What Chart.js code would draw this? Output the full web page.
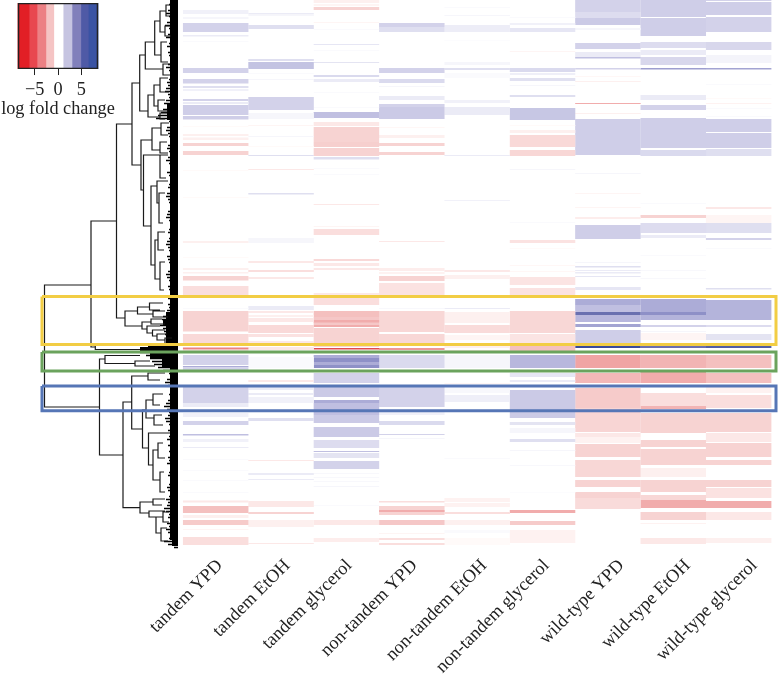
<!DOCTYPE html>
<html><head><meta charset="utf-8">
<style>html,body{margin:0;padding:0;background:#fff}#wrap{position:relative;width:778px;height:677px}
#main{position:absolute;left:0;top:0}#key{position:absolute;left:0;top:0}</style>
<script src="https://cdn.jsdelivr.net/npm/chart.js@4"></script></head>
<body><div id="wrap"><canvas id="main" width="778" height="677"></canvas><canvas id="key" width="116" height="120"></canvas></div>
<script>
const categories=['tandem YPD','tandem EtOH','tandem glycerol','non-tandem YPD','non-tandem EtOH','non-tandem glycerol','wild-type YPD','wild-type EtOH','wild-type glycerol'];
const labelAt=[0.97,1.98,2.9,3.88,4.92,5.85,6.97,7.96,8.96];
// each band: [first row, last row, log fold change]
const tandemYPD=[[10,14,.7],[17,19,.5],[23,32,2],[35,36.5,1],[41,42,.3],[68,73,2],[79,83.5,2],[86,88,1.5],[89,91,.7],[99,101,2],[102,104,1],[105,115,2.1],[116,119.5,2.1],[126,127,-.3],[134,136,-.7],[137.5,140,-.7],[143,146,-2],[151,155,-2],[170,171,-.3],[197,198,-.3],[241,243,-.7],[257,258,-.3],[268,270,-.7],[272,273.5,-.7],[276,280.5,-2],[286,295,-1.5],[308,309,.3],[311,331.5,-2],[334,343,-1.7],[347.5,349.5,-4],[350,352,-1],[355,365,2],[366,367.5,3],[368,370,2],[387,403,2],[403,407,1],[413,417,.7],[421,425,2],[434,435.5,2.5],[439,442,.7],[447,448,1],[459,460,.3],[470,471,.3],[480,481,.3],[492,493,.3],[500.5,502.5,-1],[506,513,-2.5],[515,518,-.7],[520,525,-2.2],[529,530,-.5],[537,545,-1.5]];
const tandemEtOH=[[13,14.5,1],[15,16,.5],[25,29,1.5],[59,61,1.5],[62,69,2.4],[73,74,.3],[79,80,.5],[97,110,2],[113,119,.5],[125,126,-.5],[136,137,.5],[146,147,-.3],[155,156,1.5],[169,170,-1],[193,194.5,1.5],[238,243,.5],[261,263,-1],[270,272,-1.5],[277,279,-1],[306,310,1],[311,313,-1],[315,317,-.7],[318,322,-1],[325,333,-1.7],[334,337,-1.3],[341,343,-1],[347,350,-1],[357,368,.3],[380,382,-1],[387,390,1],[393,395,1],[397,403,.7],[418,421,1.5],[460,461,-1],[473,475,1],[479,480,1],[501,507,-1],[512,514,-2],[520,527,-.7],[543,544,-1]];
const tandemGlycerol=[[0,3,-.7],[4,6,-.5],[7,10,-2],[22,23,-.5],[29,30,.3],[44,45,1.2],[50,51,.3],[62,63,1.3],[75,77,1.7],[79,82,1],[92,93,.3],[107,108,.3],[112,118,2.5],[122,126,-1],[127,142,-2],[142,147,-2.1],[148,156,-2],[157,159.5,1.5],[168,169,.3],[174,175,.3],[204,205,-1],[226,227,-.5],[229,235,-1.5],[259,261,-1.7],[263,266,-1],[268,270,-1],[293,295,-1],[298,305,-1.5],[311,317,-2.5],[317,327,-2.3],[320,322.5,-3],[325,327,-3],[328,347,-2],[348,349.5,-5],[355,358,3],[358,362,4],[362,365,3],[365,368,4],[373,383,2],[387,397,2.2],[400,403,3],[403,415,2.5],[415,423,2.2],[427,437,2.2],[440,448,1.6],[451,452,2.5],[453,458,1.3],[461,469,2],[473,474,.4],[477,478,.4],[481,482,.4],[486,487,.5],[505,506,.3],[520,525,-1],[538,542,-.8]];
const nonTandemYPD=[[23,27,2],[27,32,1.5],[68,73,2],[79,83,1.7],[86,87,.5],[96,100,1],[104,107,2],[107,119,2.2],[127,128,-.4],[135,138,-.7],[143,146,-2],[152,155,-2],[241,242,-1],[268,271,-.8],[272,274,-.6],[276,281,-2],[283,295,-1.3],[308,309,.4],[311,332,-1.8],[334,343,-1.8],[348,350,-3.5],[355,368,1.7],[387,407,2],[410,415,.7],[421,425,1.7],[434,435,2],[438,439,.5],[501,502.5,-1.5],[506,515,-2],[510,512,-3],[520,525,-2.3],[533,534,-.5],[538,540,-1.5],[543,545,-1.5]];
const nonTandemEtOH=[[7,8,.3],[15,16,.5],[25,32,.9],[40,41,.2],[62,65,.5],[68,70,1.5],[73,78,.3],[100,103,.7],[107,115,1],[155,156,1],[200,201,.7],[270,272,-1],[275,279,-.7],[308,309,1],[312,323,-.7],[325,333,-1.6],[335,340,-.5],[343,348,-.7],[350,351,-1],[355,368,.5],[383,384,-.5],[388,393,.4],[395,402,.8],[458,459,.3],[498,502,-.6],[503,507,-.6],[512,514,-1.5],[520,525,-.7],[530,533,.3],[538,545,-.3]];
const nonTandemGlycerol=[[17,18,.3],[23,25,.7],[28,32,1.2],[51,52,-.5],[68,72,1.7],[73,75,.8],[78,81,1.4],[85,86,.5],[95,97,1.5],[108,120,2.3],[125,126,-.3],[130,133,-.7],[135,147,-1.7],[150,156,-1.8],[169,170,.5],[222,223,.3],[240,243,-1.3],[248,249,-.3],[265,266,-.4],[271,272,-.4],[277,285,-1.2],[288,295,-1.3],[311,333,-1.8],[334,343,-1.2],[346,351,-2.5],[355,368,2.7],[373,377,1.2],[380,382,1],[390,413,2.2],[413,418,2.2],[422,425,1.3],[428,433,.5],[439,442,1.5],[450,451,.5],[465,466,.4],[492,493,.2],[510,513,-3],[521,525,-2.2],[530,543,-.6]];
const wildTypeYPD=[[0,12,2],[12,18,1.6],[18,25,2.2],[28,30,.5],[43,49,2],[52,57,1],[57,58.5,2.5],[68,69.5,2],[76,77,-.4],[81,82,-.7],[103,104,-3],[113,114,-.7],[119,155,2.1],[173,174,.5],[193,194,-.5],[207,208,-.5],[217,219,-.8],[225,239,2.1],[262,263,.5],[266,267.5,1.5],[270,271,1],[272,273.5,1],[276,277,1.2],[287,290,1.2],[299,305,3],[305,312,2.5],[312,315,5],[315,322,2.7],[324,327,3.3],[330,343,2.1],[346,348,7],[355,368,-3.2],[373,383,-2.7],[388,408,-2.2],[408,432,-1.9],[433,437,-1],[437,443,-.6],[444,457,-2],[460,477,-1.8],[480,487,-2],[492,498,-2],[498,509,-1.6]];
const wildTypeEtOH=[[0,17,2.1],[18,36,2.1],[42,48,1.6],[50,55,1],[57,65,1.8],[68,69.5,3.5],[95,100,1],[105,110,2],[118,148,2.1],[150,156,1.7],[203,204,.3],[215,218,-2],[223,233,1.6],[235,238,1],[255,256,.3],[270,271,.4],[278,279,.4],[299,312,3],[312,315,4],[315,320,2.8],[325,327,2],[331,332,.5],[333,340,-.5],[346,348,5],[355,368,-2.8],[372,383,-3],[393,406,-1.5],[406,409,-2.8],[413,433,-2],[440,447,-2],[449,465,-2],[468,477,-.7],[480,492,-2],[495,500,-1.8],[500,508,-3],[512,520,-2],[523,524,-.6],[538,544,-1]];
const wildTypeGlycerol=[[0,1,2],[2,15,2.1],[17,32,2],[42,50,1.8],[55,63,.6],[68,69.5,3.3],[84,85,.3],[98,99,-.3],[103,104,-.6],[108,109,.3],[116,117,.3],[119,132,2.1],[133,148,2.1],[149,156,1.5],[207,209,-1],[215,223,-.5],[223,233,1.5],[238,240,2],[248,249,.3],[288,289.5,1.5],[300,320,2.8],[325,327,1.6],[334,340,1.3],[346,348,6],[355,368,-2.5],[373,383,-2.5],[387,393,-.6],[395,408,-1.5],[413,432,-2],[433,442,-1],[443,457,-2],[460,465,-2],[480,487,-2],[488,498,-1.3],[501,508,-3],[512,520,-1],[538,543,-.7]];
const columns=[tandemYPD,tandemEtOH,tandemGlycerol,nonTandemYPD,nonTandemEtOH,nonTandemGlycerol,wildTypeYPD,wildTypeEtOH,wildTypeGlycerol];
// dendrogram joins: [merge height, upper row, lower row, upper child height, lower child height]
const joins=[[133.5,285,407,87,78.5],[87,221,347,61.5,82.7],[61.5,124,318,46,53],[46,83,165,38.3,37],[38.3,55,111,32.7,30],[32.7,42,69,23.3,15],[23.3,21,55,18,17],[18,11,32,12,13],[17,42,62,11,10],[12,5,16,8,8],[13,26,36,8,7],[15,64,75,8,8],[30,95,117,24,18],[24,85,106,18,20],[18,78,92,10,9],[20,100,111,13,10],[18,113,119,11,13],[37,140,190,26,34.5],[26,128,150,17,18],[17,123,135,9,10],[18,142,153,11,10],[34.5,155,226,18,27],[18,155,178,10,12],[27,186,265,21,23],[21,181,203,10,19],[19,193,223,13,15],[23,240,279,20,18],[20,232,250,13,14],[18,262,290,13,14],[53,311,326,40.5,36],[40.5,307,314,28.5,25],[28.5,303,310,15,18],[25,311,317,13,10],[36,322,329,27,31],[27,319,324,16,13],[31,326,333,18,25.5],[25.5,330,336,13,21],[21,334,340,11,13],[13,338,344,6,6],[82.7,345,349.5,78,38],[78.5,359,455,73,55],[73,355.5,363.5,38,43],[43,361,366,28,23],[55,402,507.7,46.3,38],[46.3,376,429,30,35.5],[30,373,380,13,18],[35.5,410,448,32,29.5],[32,400,418,25,24],[25,394,405,15,18],[24,415,425,16,15],[29.5,433,465,8,25],[25,450,480,20,18],[20,443,458,15,13],[18,472,492,14,13],[38,502,513,25,29],[25,499,505,13,16],[29,511,517,13,22],[22,517,533,15,17],[17,528,541,11,10],[15,512,522,9,9]];
// height of the dense leaf fringe, one value per three rows
const leafFringe=[8,9,7,10,12,9,8,11,13,9,7,10,12,8,9,11,8,10,9,7,8,10,12,9,8,7,9,11,10,12,13,10,9,12,14,11,15,17,20,22,9,8,11,12,10,9,8,7,10,11,9,8,10,12,9,7,8,11,9,8,7,9,10,8,11,12,10,9,7,8,10,11,12,9,8,7,9,10,8,9,11,12,10,9,8,11,10,9,7,8,10,12,11,9,8,10,9,7,8,10,8,10,9,11,12,15,16,14,18,15,14,13,11,10,8,30,38,38,32,28,26,24,20,15,9,8,11,13,10,8,7,9,8,10,12,14,11,9,10,13,12,9,8,10,7,9,11,8,10,7,9,8,10,9,11,8,7,9,10,8,7,9,11,10,8,9,12,10,11,14,12,9,10,8,11,9,12,10,8,9,14,10,4];
// solid parts of the fringe: [height reached, upper row, lower row]
const leafSolid=[[8,0,540],[6,540,546],[11,104,120],[12,312,320],[15,320,326],[12,326,345],[38,347,351],[28,351,358],[16,358,368]];
const keySteps=[-8.6,-6.2,-4.5,-2.6,-0.9,1.1,3,4.9,6.5,8.6];
const keyColours=['#e21f26','#e8474f','#ec8084','#f5c4c4','#ffffff','#c6c4e1','#8180bb','#4f5aa6','#3a53a4'];
const keyTicks=[-5,0,5];
const outlines=[{c:'#f2cd44',y:[296.5,344.5]},{c:'#6ba35d',y:[352,371]},{c:'#5676b6',y:[386,410.7]}];

const serif='"Liberation Serif"';
const blueStops=[[0,[255,255,255]],[.3,[250,250,253]],[1,[235,235,246]],[2,[211,210,234]],[3,[172,172,215]],[4,[142,144,199]],[5,[106,112,176]],[7,[58,75,154]]];
const redStops=[[0,[255,255,255]],[.3,[255,250,249]],[1,[252,232,231]],[2,[247,211,210]],[3,[241,172,172]],[4,[235,130,132]],[5,[224,74,80]]];
function shade(v){
 const s=v>=0?blueStops:redStops,a=Math.abs(v);
 let hi=s.findIndex(p=>a<=p[0]);
 if(hi<1)hi=a===0?1:s.length-1;
 const lo=s[hi-1],up=s[hi],t=Math.min(1,(a-lo[0])/(up[0]-lo[0]));
 const c=lo[1].map((n,k)=>Math.round(n+(up[1][k]-n)*t));
 return `rgb(${c[0]},${c[1]},${c[2]})`;
}
const bandSets=columns.map((col,i)=>({type:'bar',xAxisID:'x',yAxisID:'y',grouped:false,order:5,barThickness:65.5,inflateAmount:0,
 data:col.map(b=>({x:i+1,y:[b[0],b[1]],v:b[2]})),backgroundColor:c=>c.raw?shade(c.raw.v):'#fff',borderWidth:0}));
const joinPts=[];joins.forEach(j=>{joinPts.push({x:j[3],y:j[1]},{x:j[0],y:j[1]},{x:j[0],y:j[2]},{x:j[4],y:j[2]},{x:null,y:null});});
const fringePts=[];leafFringe.forEach((h,i)=>{const r=i*3+1.5;fringePts.push({x:h,y:r},{x:0,y:r},{x:null,y:null});});
const line=(data,c,w,o)=>({type:'line',xAxisID:'xD',yAxisID:'y',data,borderColor:c,borderWidth:w,pointRadius:0,spanGaps:false,tension:0,clip:false,order:o,fill:false,borderCapStyle:'butt'});
const outlineSets=outlines.map(o=>line([{x:136,y:o.y[0]},{x:-598,y:o.y[0]},{x:-598,y:o.y[1]},{x:136,y:o.y[1]},{x:136,y:o.y[0]}],o.c,3,1));
outlineSets.forEach(s=>s.borderJoinStyle='miter');
const solidSets=leafSolid.map(s=>line([{x:s[0]/2,y:s[1]},{x:s[0]/2,y:s[2]}],'#000',s[0],3));

new Chart(document.getElementById('main'),{type:'bar',
 data:{datasets:[...outlineSets,...solidSets,line(fringePts,'#000',1.3,3),line(joinPts,'#1a1a1a',1.2,2),...bandSets]},
 options:{responsive:false,animation:false,events:[],layout:{padding:0},
  plugins:{legend:{display:false},tooltip:{enabled:false}},
  scales:{
   x:{type:'linear',display:false,min:-2.2995,max:9.602,offset:false,grid:{display:false}},
   xD:{type:'linear',display:false,min:-600,max:178,reverse:true,offset:false,grid:{display:false}},
   xL:{type:'linear',position:'bottom',min:-2.318,max:9.311,offset:false,grid:{display:false},border:{display:false},
     afterBuildTicks:s=>{s.ticks=labelAt.map(v=>({value:v}));},
     afterFit:s=>{s.height=130;},
     ticks:{autoSkip:false,minRotation:45,maxRotation:45,padding:0,color:'#222',font:{family:serif,size:18.3},callback:(v,i)=>categories[i]}},
   y:{type:'linear',display:false,min:0,max:547,reverse:true,grid:{display:false}}
  }}});

const keySets=keyColours.map((c,i)=>({data:[{x:[keySteps[i],keySteps[i+1]],y:'k'}],backgroundColor:c,borderWidth:0,grouped:false,order:2,categoryPercentage:1,barPercentage:1}));
keySets.push({data:[{x:[keySteps[0],keySteps[9]],y:'k'}],backgroundColor:'rgba(0,0,0,0)',borderColor:'#222',borderWidth:1,borderSkipped:false,grouped:false,order:1,categoryPercentage:1,barPercentage:1});
new Chart(document.getElementById('key'),{type:'bar',data:{labels:['k'],datasets:keySets},
 options:{indexAxis:'y',responsive:false,animation:false,events:[],layout:{padding:{left:0,right:0,top:3,bottom:0}},
  plugins:{legend:{display:false},tooltip:{enabled:false},
   title:{display:true,position:'bottom',text:'log fold change',color:'#222',font:{family:serif,size:18.3,weight:'normal'},padding:0}},
  scales:{y:{display:false,grid:{display:false}},
   x:{type:'linear',min:-12.45,max:12.45,position:'bottom',border:{display:false},
    grid:{drawOnChartArea:false,drawTicks:true,tickLength:6,color:'#222'},
    afterBuildTicks:s=>{s.ticks=keyTicks.map(v=>({value:v}));},
    afterFit:s=>{s.height=29;},
    ticks:{padding:4,color:'#222',maxRotation:0,font:{family:serif,size:18.3},callback:v=>v<0?'\u2212'+Math.abs(v):String(v)}}}}});
</script></body></html>
